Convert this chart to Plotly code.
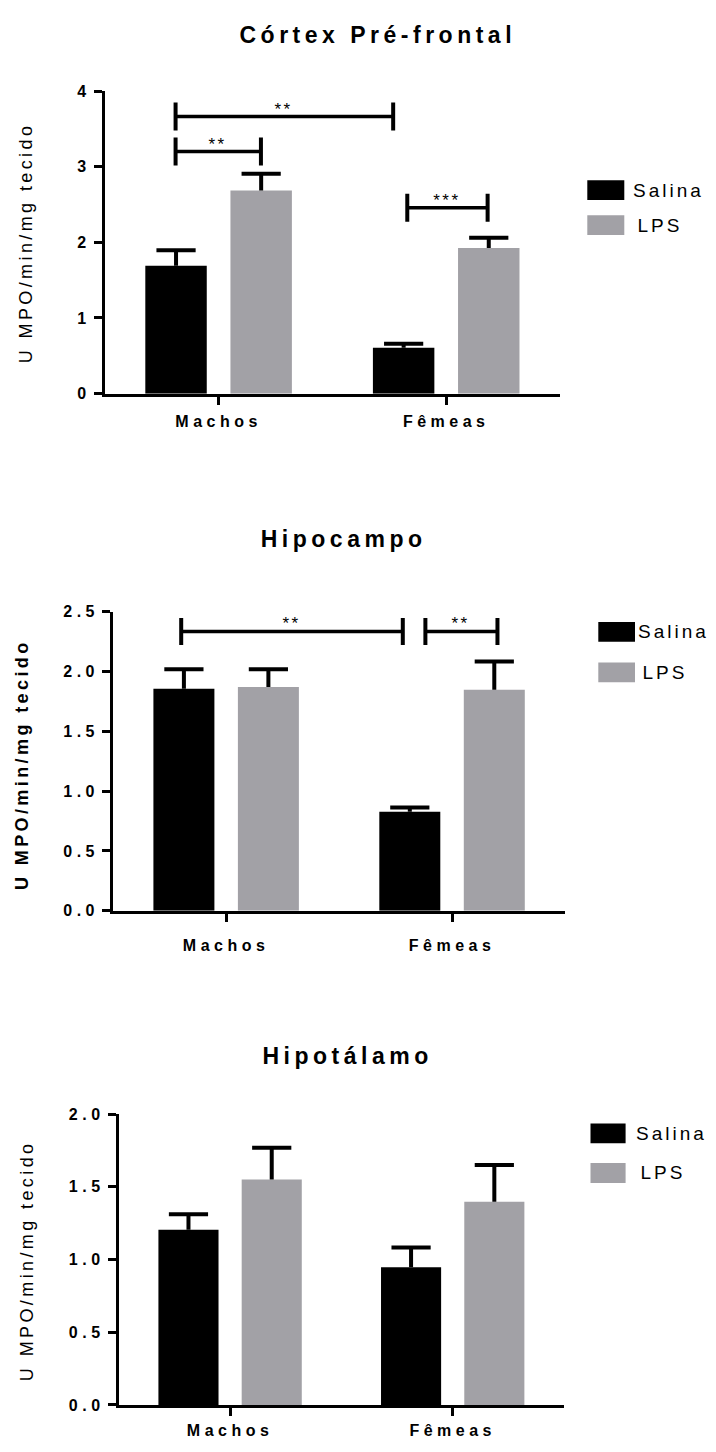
import json
import plotly.graph_objects as go

# ---------------- data ----------------
categories = ["Machos", "Fêmeas"]
series_names = ["Salina", "LPS"]

titles = ["Córtex Pré-frontal", "Hipocampo", "Hipotálamo"]
y_title = "U MPO/min/mg tecido"

# Córtex Pré-frontal
pfc_salina = [1.69, 0.607]
pfc_salina_sem = [0.205, 0.053]
pfc_lps = [2.684, 1.925]
pfc_lps_sem = [0.221, 0.135]

# Hipocampo
hip_salina = [1.855, 0.827]
hip_salina_sem = [0.162, 0.035]
hip_lps = [1.869, 1.847]
hip_lps_sem = [0.148, 0.236]

# Hipotálamo
hyp_salina = [1.206, 0.947]
hyp_salina_sem = [0.106, 0.136]
hyp_lps = [1.551, 1.398]
hyp_lps_sem = [0.219, 0.253]

# significance brackets: (x start, x end, y level, label) in data units
pfc_brackets = [(-0.189, 0.767, 3.663, "**"), (-0.189, 0.186, 3.199, "**"), (0.829, 1.182, 2.458, "***")]
hip_brackets = [(-0.199, 0.782, 2.334, "**"), (0.882, 1.201, 2.334, "**")]
hyp_brackets = []

y_ranges = [[0, 4], [0, 2.5], [0, 2]]
y_dticks = [1, 0.5, 0.5]
y_formats = ["d", ".1f", ".1f"]

# ---------------- styling / layout ----------------
W, H = 716, 1452
FONT = "Liberation Sans, Arial, sans-serif"
BLACK = "#000000"
GREY = "#a2a1a6"
colors = [BLACK, GREY]
OFFSET = 0.187
BAR_W = 0.27
CAP = 28

# panel geometry in pixels
panels = [
    dict(x=(104.8, 560.0), y=(84.0, 390.2), title=(377.5, 27.7), ytitle=(25.8, 238.0), ytitle_bold=False,
         legend_box=(587.3, 624.3), legend_y=(184.2, 219.7), legend_text=640, xstand=3, bh=14),
    dict(x=(113.2, 565.0), y=(610.7, 913.5), title=(343.3, 537.7), ytitle=(21.7, 766.0), ytitle_bold=True,
         legend_box=(598.3, 635.0), legend_y=(631.3, 672.2), legend_text=645, xstand=10, bh=13.5),
    dict(x=(118.8, 564.0), y=(1119.3, 1413.5), title=(347.6, 1060.0), ytitle=(27.4, 1267.3), ytitle_bold=False,
         legend_box=(590.5, 625.6), legend_y=(1138.6, 1178.8), legend_text=643, xstand=1, bh=14),
]

datasets = [
    ([pfc_salina, pfc_lps], [pfc_salina_sem, pfc_lps_sem], pfc_brackets),
    ([hip_salina, hip_lps], [hip_salina_sem, hip_lps_sem], hip_brackets),
    ([hyp_salina, hyp_lps], [hyp_salina_sem, hyp_lps_sem], hyp_brackets),
]


def px_x(v):
    return v / W


def px_y(v):
    return 1 - v / H


fig = go.Figure()
shapes = []
annotations = []
layout_axes = {}

for p, (panel, (vals, sems, brackets)) in enumerate(zip(panels, datasets)):
    sfx = "" if p == 0 else str(p + 1)
    xref, yref = "x" + sfx, "y" + sfx
    offsets = [-OFFSET, OFFSET]
    for s, name in enumerate(series_names):
        xs = [i + offsets[s] for i in range(len(categories))]
        tops = [v + e for v, e in zip(vals[s], sems[s])]
        fig.add_trace(go.Bar(
            x=xs, y=vals[s], width=BAR_W, name=name, marker=dict(color=colors[s], line=dict(width=0)),
            xaxis=xref, yaxis=yref, showlegend=False, legendgroup=name,
        ))
        # error bars (upper only)
        fig.add_trace(go.Scatter(
            x=xs, y=tops, mode="markers", xaxis=xref, yaxis=yref, showlegend=False, hoverinfo="skip",
            marker=dict(symbol="line-ew", size=CAP, color=BLACK, line=dict(width=4, color=BLACK)),
            error_y=dict(type="data", symmetric=False, array=[0] * len(tops), arrayminus=sems[s],
                         width=0, thickness=4, color=BLACK),
        ))

    # significance brackets
    for (x0, x1, yv, lab) in brackets:
        shapes.append(dict(type="line", xref=xref, yref=yref, x0=x0, x1=x1, y0=yv, y1=yv,
                           line=dict(color=BLACK, width=3.5)))
        for xe in (x0, x1):
            shapes.append(dict(type="line", xref=xref, yref=yref, x0=xe, x1=xe,
                               ysizemode="pixel", yanchor=yv, y0=-panel["bh"], y1=panel["bh"],
                               line=dict(color=BLACK, width=4)))
        annotations.append(dict(x=(x0 + x1) / 2, y=yv, xref=xref, yref=yref, text=lab, showarrow=False,
                                xanchor="center", yanchor="bottom", yshift=-4,
                                font=dict(family=FONT, size=17, color=BLACK)))

    # axes
    (xl, xr), (yt, yb) = panel["x"], panel["y"]
    layout_axes["xaxis" + sfx] = dict(
        domain=[px_x(xl), px_x(xr)], range=[-0.5, 1.5], anchor=yref,
        tickmode="array", tickvals=list(range(len(categories))), ticktext=categories,
        ticks="outside", ticklen=8, tickwidth=3, tickcolor=BLACK,
        showline=True, linewidth=3, linecolor=BLACK, showgrid=False, zeroline=False,
        ticklabelstandoff=panel["xstand"],
        tickfont=dict(family=FONT, size=16, color=BLACK, weight="bold"), fixedrange=True,
    )
    layout_axes["yaxis" + sfx] = dict(
        domain=[px_y(yb), px_y(yt)], range=y_ranges[p], anchor=xref,
        tick0=0, dtick=y_dticks[p], tickformat=y_formats[p],
        ticks="outside", ticklen=8, tickwidth=3, tickcolor=BLACK,
        showline=True, linewidth=3, linecolor=BLACK, showgrid=False, zeroline=False,
        tickfont=dict(family=FONT, size=16, color=BLACK, weight="bold"), fixedrange=True,
    )

    # panel title
    annotations.append(dict(x=px_x(panel["title"][0]), y=px_y(panel["title"][1]), xref="paper", yref="paper",
                            text=titles[p], showarrow=False, xanchor="center", yanchor="middle",
                            font=dict(family=FONT, size=23, color=BLACK, weight="bold")))
    # y title
    annotations.append(dict(x=px_x(panel["ytitle"][0]), y=px_y(panel["ytitle"][1]), xref="paper", yref="paper",
                            text=y_title, showarrow=False, textangle=-90, xanchor="center", yanchor="middle",
                            font=dict(family=FONT, size=18, color=BLACK,
                                      weight="bold" if panel["ytitle_bold"] else "normal")))
    # legend
    bx0, bx1 = panel["legend_box"]
    for s, name in enumerate(series_names):
        cy = panel["legend_y"][s]
        shapes.append(dict(type="rect", xref="paper", yref="paper",
                           x0=px_x(bx0), x1=px_x(bx1), y0=px_y(cy + 10), y1=px_y(cy - 10),
                           fillcolor=colors[s], line=dict(width=0)))
        annotations.append(dict(x=px_x(panel["legend_text"]), y=px_y(cy), xref="paper", yref="paper",
                                text=name, showarrow=False, xanchor="left", yanchor="middle",
                                font=dict(family=FONT, size=19, color=BLACK)))

fig.update_layout(
    width=W, height=H, margin=dict(l=0, r=0, t=0, b=0),
    paper_bgcolor="white", plot_bgcolor="white",
    barmode="overlay", showlegend=False,
    font=dict(family=FONT, color=BLACK),
    shapes=shapes, annotations=annotations,
    **layout_axes,
)

# letter spacing (px) by font size, to mimic the tracked lettering of the original
letter_spacing = {23: 4.5, 19: 3.0, 18: 3.4, 17: 2.5, 16: 4.5}
post = """
var gd = document.getElementById('{plot_id}');
var LS = %s;
function applyLS(){
  gd.querySelectorAll('text').forEach(function(t){
    var fs = Math.round(parseFloat(t.style.fontSize));
    if (LS[fs] !== undefined) { t.style.letterSpacing = LS[fs] + 'px'; }
  });
}
applyLS();
gd.on('plotly_afterplot', applyLS);
""" % json.dumps(letter_spacing)

fig.write_html("out.html", post_script=post, config={"displayModeBar": False})
